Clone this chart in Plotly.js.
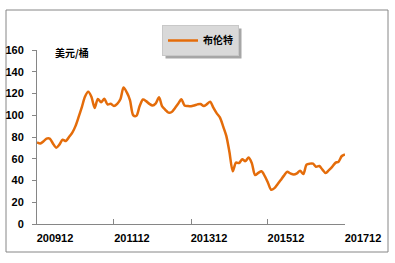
<!DOCTYPE html>
<html>
<head>
<meta charset="utf-8">
<script src="https://cdn.plot.ly/plotly-3.0.1.min.js"></script>
<style>html,body{margin:0;padding:0;background:#fff;}#chart{width:395px;height:263px;}</style>
</head>
<body>
<div id="chart"></div>
<script>
// Monthly Brent price (USD/bbl), Dec 2009 .. Dec 2017
var startYear = 2009, startMonth = 12;
var brent = [
  75, 74, 76, 78.5, 78.5, 74, 70.2, 73, 77.5, 76.3, 80, 84,
  90, 98.7, 108, 117, 121.5, 117, 106.7, 115, 112, 115.2, 110, 110.5,
  108.5, 110.5, 115, 125.5, 121, 114, 100, 99.5, 108.5, 114.5, 113, 110.5,
  109, 111, 116.5, 108.5, 105, 102.4, 103, 106.5, 110.5, 114.6, 109, 108.5,
  108.3, 109, 110, 110.3, 108.5, 110.2, 112.5, 107, 102, 98, 90, 81,
  66, 48.5, 56.5, 56, 59.5, 57.8, 61.2, 56, 45, 47, 48.5, 44,
  38, 31.5, 33, 36.5, 40.5, 44.5, 48, 46.5, 45.5, 46.5, 49, 46,
  54.5, 55.5, 55.5, 52.7, 53.3, 50, 46.8, 49.5, 52.5, 56.2, 57.3, 62.5,
  64
];
var tickDates = ['2009-12-01', '2011-12-01', '2013-12-01', '2015-12-01', '2017-12-01'];
var tickLabels = ['200912', '201112', '201312', '201512', '201712'];
var yTicks = [0, 20, 40, 60, 80, 100, 120, 140, 160];
var seriesName = '布伦特';
var unitLabel = '美元/桶';

var months = [];
for (var i = 0; i < brent.length; i++) {
  var mIdx = startMonth - 1 + i;
  var y = startYear + Math.floor(mIdx / 12);
  var m = (mIdx % 12) + 1;
  months.push(y + '-' + (m < 10 ? '0' + m : m) + '-01');
}

var axisGray = '#868686';
var tickFont = {family: 'Liberation Sans, Arial, sans-serif', size: 11, color: '#000', weight: 'bold'};

var trace = {
  x: months, y: brent, type: 'scatter', mode: 'lines', name: seriesName,
  line: {color: '#E46C0A', width: 2.5, shape: 'spline', smoothing: 0.8}
};

var plotL = 37, plotR = 50, plotT = 50, plotB = 39, W = 395, H = 263;
var pw = W - plotL - plotR, ph = H - plotT - plotB;

var layout = {
  width: W, height: H,
  margin: {l: plotL, r: plotR, t: plotT, b: plotB},
  paper_bgcolor: '#fff', plot_bgcolor: '#fff',
  showlegend: true,
  legend: {
    x: (162 - plotL) / pw, y: (H - plotB - 25) / ph, xanchor: 'left', yanchor: 'top',
    bgcolor: '#d9d9d9', bordercolor: '#c8c8c8', borderwidth: 1,
    font: {family: 'Noto Sans CJK SC, sans-serif', size: 10, color: '#000', weight: 'bold'},
    itemwidth: 30, tracegroupgap: 0
  },
  xaxis: {
    type: 'date', range: [tickDates[0], tickDates[tickDates.length - 1]],
    tickmode: 'array', tickvals: tickDates, ticktext: tickLabels,
    ticks: 'inside', ticklen: 5, tickcolor: axisGray, tickwidth: 1,
    showline: true, linecolor: axisGray, linewidth: 1,
    showgrid: false, zeroline: false,
    tickfont: tickFont, ticklabelshift: 18, ticklabelstandoff: 4
  },
  yaxis: {
    range: [0, 160], tickmode: 'array', tickvals: yTicks,
    ticks: 'outside', ticklen: 4, tickcolor: axisGray, tickwidth: 1,
    showline: true, linecolor: axisGray, linewidth: 1,
    showgrid: false, zeroline: false,
    tickfont: tickFont, ticklabelstandoff: 6
  },
  shapes: [
    {type: 'rect', xref: 'paper', yref: 'paper',
     x0: (6 - plotL) / pw, x1: (388 - plotL) / pw, y0: (H - plotB - 252) / ph, y1: (H - plotB - 10) / ph,
     line: {color: axisGray, width: 1}, fillcolor: 'rgba(0,0,0,0)', layer: 'below'}
  ],
  annotations: [
    {text: unitLabel, xref: 'paper', yref: 'paper', x: (53 - plotL) / pw, y: (H - plotB - 52) / ph,
     xanchor: 'left', yanchor: 'middle',
     showarrow: false, font: {family: 'Noto Sans CJK SC, sans-serif', size: 10, color: '#000', weight: 'bold'}}
  ]
};

Plotly.newPlot('chart', [trace], layout, {displayModeBar: false, staticPlot: true}).then(function (gd) {
  // drop shadow behind the legend box
  var bg = gd.querySelector('.legend .bg');
  if (!bg) return;
  var r = bg.getBoundingClientRect();
  var c = gd.getBoundingClientRect();
  var x0 = r.left - c.left + 3, x1 = r.right - c.left + 3;
  var y0 = r.top - c.top + 3, y1 = r.bottom - c.top + 3;
  var shadow = {type: 'rect', xref: 'paper', yref: 'paper',
    x0: (x0 - plotL) / pw, x1: (x1 - plotL) / pw,
    y0: (H - plotB - y1) / ph, y1: (H - plotB - y0) / ph,
    line: {width: 0}, fillcolor: '#a6a6a6', layer: 'above'};
  return Plotly.relayout(gd, {shapes: layout.shapes.concat([shadow])});
});
</script>
</body>
</html>
